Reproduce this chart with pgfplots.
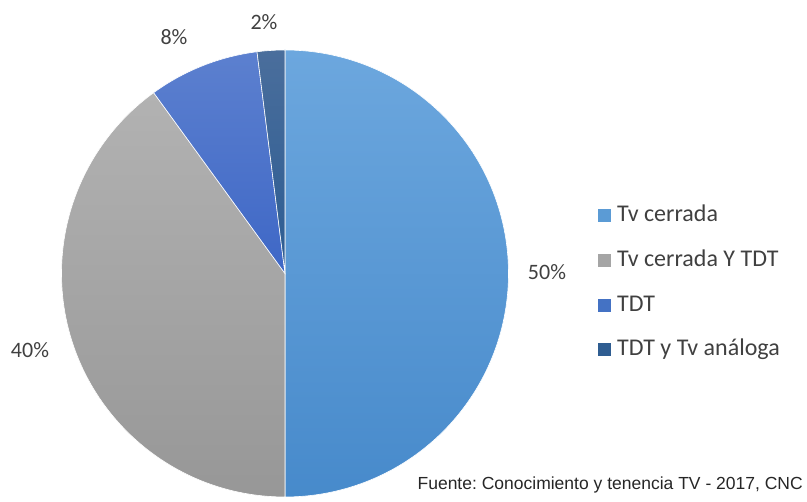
\documentclass[border=0pt]{standalone}
\usepackage{pgfplots}
\usepackage{pgfplotstable}
\pgfplotsset{compat=1.18}
\usepackage{fontspec}
\setmainfont{Carlito}
\newfontfamily\srcfont{Liberation Sans}
\frenchspacing

% slice colours: top / bottom of the gradient, flat for the legend
\definecolor{c0top}{HTML}{6CA7DE}\definecolor{c0bot}{HTML}{478ACB}\definecolor{c0}{HTML}{5B9BD5}
\definecolor{c1top}{HTML}{B2B2B2}\definecolor{c1bot}{HTML}{979797}\definecolor{c1}{HTML}{A5A5A5}
\definecolor{c2top}{HTML}{5C80CF}\definecolor{c2bot}{HTML}{3E67C6}\definecolor{c2}{HTML}{4472C4}
\definecolor{c3top}{HTML}{4A6E9C}\definecolor{c3bot}{HTML}{2C5C92}\definecolor{c3}{HTML}{2F5D91}
\definecolor{lbl}{HTML}{404040}

\pgfplotstableread{
label value
{Tv cerrada} 50
{Tv cerrada Y TDT} 40
{TDT} 8
{TDT y Tv análoga} 2
}\piedata

\begin{document}
\begin{tikzpicture}
\begin{axis}[
  x=1pt, y=1pt,
  xmin=0, xmax=807, ymin=0, ymax=502,
  hide axis, clip=false,
]
\path (rel axis cs:0,0) rectangle (rel axis cs:1,1);

% pie slices, clockwise from the top
\def\s{90}
\pgfplotsforeachungrouped \i in {0,...,3}{
  \pgfplotstablegetelem{\i}{value}\of\piedata
  \let\v\pgfplotsretval
  \pgfmathsetmacro\e{\s - 3.6*\v}
  \edef\cmd{\noexpand\shade[top color=c\i top, bottom color=c\i bot, draw=white, line width=0.6pt]
    (axis cs:285,228.5) -- ++(\s:223.5pt) arc[start angle=\s, end angle=\e, radius=223.5pt] -- cycle;}
  \cmd
  \global\let\s\e
}

% percentage labels
\begin{scope}[every node/.style={font=\fontsize{22}{26}\selectfont, text=lbl, anchor=base, inner sep=0pt}]
  \node at (axis cs:547,222) {50\%};
  \node at (axis cs:30,144) {40\%};
  \node at (axis cs:174,457) {8\%};
  \node at (axis cs:264,472) {2\%};
\end{scope}

% legend
\pgfplotsforeachungrouped \i/\yy in {0/280,1/235,2/190,3/146}{
  \pgfplotstablegetelem{\i}{label}\of\piedata
  \let\lab\pgfplotsretval
  \edef\cmd{\noexpand\fill[c\i] (axis cs:598,\yy) rectangle (axis cs:611,\yy+12.5);
    \noexpand\node[anchor=base west, inner sep=0pt, text=lbl, font=\noexpand\fontsize{24}{28}\noexpand\selectfont]
      at (axis cs:617,\yy) {\lab};}
  \cmd
}

\node[anchor=base east, inner sep=0pt, font=\srcfont\fontsize{17.5}{20}\selectfont, text=black!85]
  at (axis cs:803,12) {Fuente: Conocimiento y tenencia TV - 2017, CNC};
\end{axis}
\end{tikzpicture}
\end{document}
